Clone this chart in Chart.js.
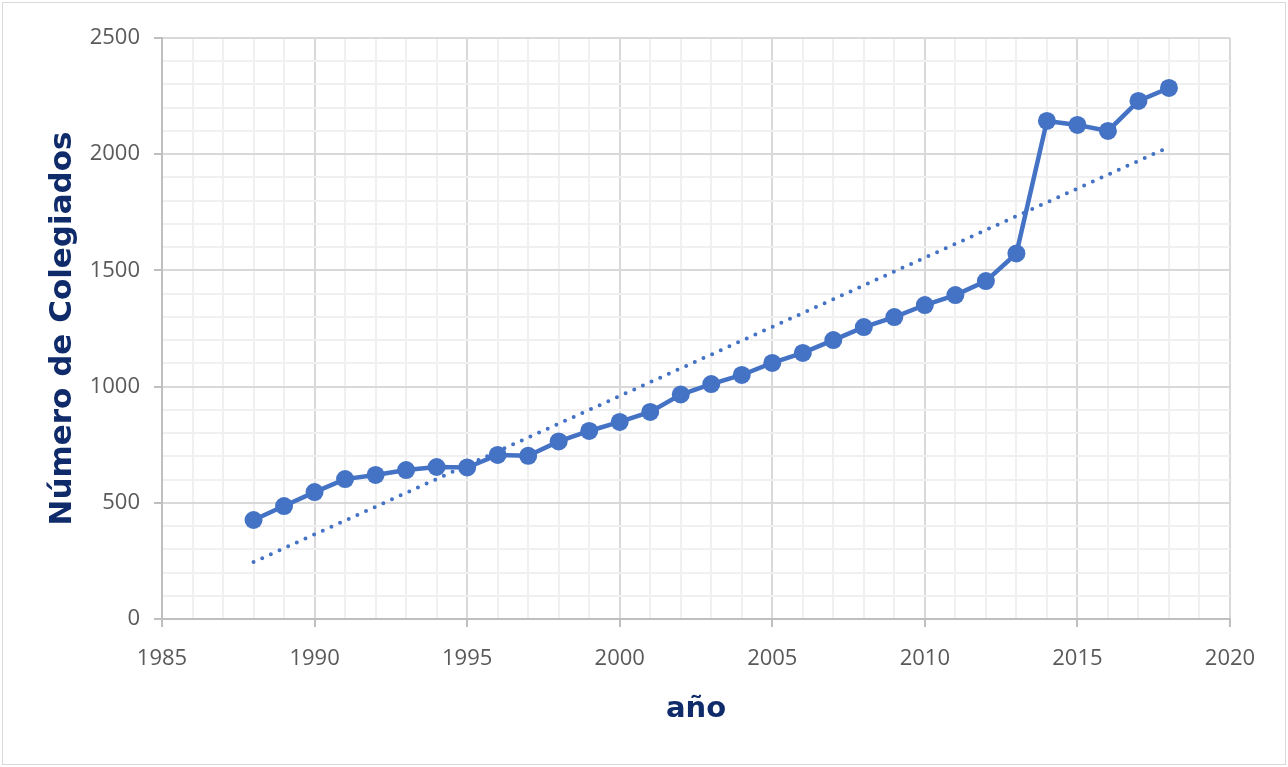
<!DOCTYPE html>
<html>
<head>
<meta charset="utf-8">
<script src="https://cdn.jsdelivr.net/npm/chart.js@4/dist/chart.umd.min.js"></script>
<style>
  html, body { margin: 0; padding: 0; background: #fff; }
  .frame {
    position: absolute; left: 2px; top: 2px;
    width: 1282px; height: 761px;
    border: 1px solid #d9d9d9;
  }
  canvas { position: absolute; left: 0; top: 0; }
</style>
</head>
<body>
<div class="frame"></div>
<canvas id="colegiados" width="1288" height="767"></canvas>
<script>
const years = [1988, 1989, 1990, 1991, 1992, 1993, 1994, 1995, 1996, 1997,
  1998, 1999, 2000, 2001, 2002, 2003, 2004, 2005, 2006, 2007,
  2008, 2009, 2010, 2011, 2012, 2013, 2014, 2015, 2016, 2017, 2018];
const colegiados = [426, 486, 546, 602, 620, 641, 654, 652, 706, 702,
  764, 809, 848, 891, 966, 1011, 1050, 1102, 1145, 1200,
  1256, 1299, 1351, 1394, 1454, 1573, 2143, 2126, 2100, 2229, 2285];
// linear trend line, ends
const trendYears = [1988, 2018];
const trendValues = [245, 2031];

const navy = '#0f2b69';
const tickGray = '#595959';
const blue = '#4472c4';
const tickFont = { family: "'Open Sans', sans-serif", size: 22 };

function majorColor(step) {
  return ctx => (ctx.tick && ctx.tick.value % step === 0) ? '#d9d9d9' : '#f0f0f0';
}
function tickMarkColor(step) {
  return ctx => (ctx.tick && ctx.tick.value % step === 0) ? '#bfbfbf' : 'rgba(0,0,0,0)';
}

const ctx = document.getElementById('colegiados').getContext('2d');

new Chart(ctx, {
  type: 'line',
  data: {
    datasets: [
      {
        label: 'Colegiados',
        data: years.map((y, i) => ({ x: y, y: colegiados[i] })),
        borderColor: blue,
        backgroundColor: blue,
        borderWidth: 4.5,
        pointRadius: 9,
        pointHoverRadius: 9,
        pointBorderWidth: 0,
        tension: 0
      },
      {
        label: 'Tendencia',
        data: trendYears.map((y, i) => ({ x: y, y: trendValues[i] })),
        borderColor: blue,
        borderWidth: 4,
        borderDash: [0, 9.5],
        borderCapStyle: 'round',
        pointRadius: 0,
        tension: 0
      }
    ]
  },
  options: {
    responsive: false,
    animation: false,
    layout: { padding: { left: 40, top: 38, right: 58, bottom: 40 } },
    plugins: {
      legend: { display: false },
      tooltip: { enabled: false }
    },
    scales: {
      x: {
        type: 'linear',
        min: 1985,
        max: 2020,
        afterFit: s => { s.height = 108; },
        ticks: {
          stepSize: 1,
          autoSkip: false,
          maxRotation: 0,
          padding: 19,
          color: tickGray,
          font: tickFont,
          callback: v => (v % 5 === 0 ? String(v) : '')
        },
        grid: {
          color: majorColor(5),
          lineWidth: 2,
          tickLength: 8,
          tickColor: tickMarkColor(5)
        },
        border: { color: '#bfbfbf', width: 2 },
        title: {
          display: true,
          text: 'año',
          color: navy,
          font: { family: "'DejaVu Sans', sans-serif", size: 29, weight: 'bold' },
          padding: { top: 0, bottom: 0 }
        }
      },
      y: {
        min: 0,
        max: 2500,
        afterFit: s => { s.width = 122; },
        ticks: {
          stepSize: 100,
          autoSkip: false,
          padding: 14,
          color: tickGray,
          font: tickFont,
          callback: v => (v % 500 === 0 ? String(v) : '')
        },
        grid: {
          color: majorColor(500),
          lineWidth: 2,
          tickLength: 8,
          tickColor: tickMarkColor(500)
        },
        border: { color: '#bfbfbf', width: 2 },
        title: {
          display: true,
          text: 'Número de Colegiados',
          color: navy,
          font: { family: "'DejaVu Sans', sans-serif", size: 31, weight: 'bold' },
          padding: { top: 4, bottom: 0 }
        }
      }
    }
  }
});
</script>
</body>
</html>
